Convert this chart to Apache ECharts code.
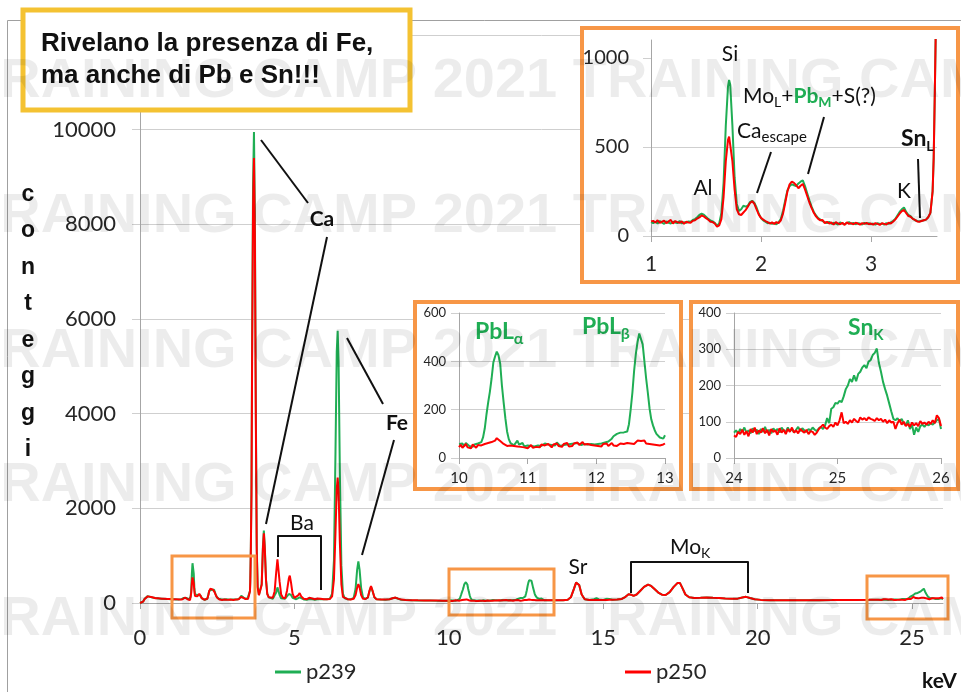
<!DOCTYPE html>
<html><head><meta charset="utf-8">
<script src="https://cdn.jsdelivr.net/npm/echarts@6/dist/echarts.min.js"></script>
<style>html,body{margin:0;padding:0;background:#fff}#c{width:961px;height:692px}</style>
</head><body><div id="c"></div>
<script>
// ---------------- DATA: rows are [keV, p239, p250] ----------------
const specLow = [[0.00,0,0],[0.05,5,5],[0.10,30,28],[0.15,90,85],[0.20,130,125],[0.25,145,140],[0.30,138,135],[0.40,118,120],[0.50,105,102],[0.60,96,98],[0.70,92,90],[0.80,86,88],[0.90,82,84]];

const specSi = [[1.00,78,82],[1.02,72,85],[1.04,80,76],[1.06,70,88],[1.08,84,74],[1.10,75,80],[1.12,68,86],[1.14,82,72],[1.16,74,82],[1.18,70,90],[1.20,80,70],[1.22,76,84],[1.24,72,78],[1.26,84,74],[1.28,70,82],[1.30,78,68],[1.32,74,80],[1.34,82,76],[1.36,80,74],[1.38,90,85],[1.40,95,88],[1.42,105,98],[1.44,118,104],[1.46,125,115],[1.48,120,110],[1.50,108,100],[1.52,96,92],[1.54,88,80],[1.56,82,78],[1.58,74,70],[1.60,58,52],[1.62,70,60],[1.64,130,95],[1.66,300,220],[1.68,620,420],[1.70,840,540],[1.71,876,558],[1.72,850,550],[1.74,620,420],[1.76,330,260],[1.78,180,150],[1.80,140,122],[1.82,150,118],[1.84,170,132],[1.86,165,145],[1.88,170,165],[1.90,190,185],[1.92,198,195],[1.94,185,180],[1.96,160,150],[1.98,125,120],[2.00,100,102],[2.02,88,92],[2.04,80,84],[2.06,72,78],[2.08,74,70],[2.10,68,76],[2.12,72,68],[2.14,66,78],[2.16,78,72],[2.18,95,88],[2.20,140,125],[2.22,200,185],[2.24,255,250],[2.26,280,290],[2.28,290,305],[2.30,285,298],[2.32,280,285],[2.34,295,268],[2.36,305,282],[2.38,312,292],[2.40,280,262],[2.42,240,225],[2.44,200,188],[2.46,165,158],[2.48,135,130],[2.50,115,110],[2.52,100,96],[2.54,92,88],[2.56,84,90],[2.58,78,72],[2.60,72,80],[2.62,80,70],[2.64,68,76],[2.66,74,64],[2.68,70,78],[2.70,64,70],[2.72,76,66],[2.74,70,74],[2.76,66,62],[2.78,72,76],[2.80,78,68],[2.82,68,72],[2.84,74,66],[2.86,66,74],[2.88,72,70],[2.90,70,64],[2.92,64,72],[2.94,74,68],[2.96,68,74],[2.98,72,66],[3.00,66,70],[3.02,70,64],[3.04,64,72],[3.06,72,68],[3.08,68,62],[3.10,70,72],[3.12,64,68],[3.14,72,64],[3.16,68,74],[3.18,76,70],[3.20,84,80],[3.22,95,92],[3.24,115,108],[3.26,135,125],[3.28,150,140],[3.30,160,146],[3.32,135,128],[3.34,118,112],[3.36,112,108],[3.38,98,96],[3.40,88,90],[3.42,84,82],[3.44,82,80],[3.46,86,84],[3.48,88,88],[3.50,92,92],[3.52,105,105],[3.54,130,130],[3.56,250,250],[3.57,440,440],[3.58,800,800],[3.59,1200,1200]];

const specCaFe = [[3.61,2500,2300],[3.63,5500,5100],[3.66,8800,8300],[3.69,9950,9400],[3.72,8200,7700],[3.75,4200,3900],[3.78,1200,1100],[3.81,350,330],[3.85,170,165],[3.90,150,150],[3.94,400,380],[3.98,1200,1150],[4.01,1530,1470],[4.04,1200,1150],[4.08,500,480],[4.12,200,190],[4.17,120,120],[4.22,95,100],[4.30,90,110],[4.36,110,250],[4.41,220,650],[4.45,330,920],[4.48,300,880],[4.52,170,450],[4.57,100,180],[4.63,85,110],[4.70,90,100],[4.76,130,260],[4.82,190,520],[4.85,210,580],[4.89,170,430],[4.94,110,200],[5.00,85,110],[5.06,80,100],[5.12,100,160],[5.17,120,210],[5.22,95,140],[5.30,75,90],[5.40,70,80],[5.48,85,110],[5.53,100,130],[5.58,80,95],[5.66,70,80],[5.75,80,95],[5.85,85,90],[5.95,80,80],[6.05,80,78],[6.15,90,85],[6.22,200,140],[6.28,900,500],[6.33,3200,1500],[6.37,5300,2400],[6.40,5750,2650],[6.43,5100,2350],[6.47,2800,1300],[6.52,800,400],[6.57,200,130],[6.63,100,90],[6.72,80,80],[6.82,78,75],[6.92,110,90],[6.98,300,170],[7.03,700,320],[7.07,880,400],[7.11,700,330],[7.16,320,170],[7.22,120,90],[7.30,85,85],[7.38,120,120],[7.43,250,260],[7.48,340,360],[7.53,250,260],[7.59,120,120],[7.66,80,80],[7.80,72,72],[7.95,70,72],[8.08,78,80],[8.18,100,100],[8.27,112,115],[8.36,90,92],[8.46,70,72],[8.60,62,64],[8.80,58,60],[9.00,55,56],[9.20,52,54],[9.40,52,52],[9.60,50,51],[9.80,50,50],[9.98,50,49]];

const specPb = [[10.000,58,45],[10.025,52,55],[10.050,60,42],[10.075,48,50],[10.100,62,58],[10.125,55,44],[10.150,50,52],[10.175,58,40],[10.200,46,56],[10.225,56,48],[10.250,52,42],[10.275,60,54],[10.300,55,46],[10.325,66,52],[10.350,85,50],[10.375,122,58],[10.400,180,55],[10.425,230,62],[10.450,275,60],[10.475,330,66],[10.500,395,70],[10.525,420,72],[10.550,440,82],[10.575,425,76],[10.600,390,70],[10.625,300,62],[10.650,230,58],[10.675,165,55],[10.700,110,50],[10.725,78,46],[10.750,62,52],[10.775,56,44],[10.800,52,50],[10.825,60,42],[10.850,72,48],[10.875,55,40],[10.900,50,46],[10.925,62,52],[10.950,48,44],[10.975,55,50],[11.000,52,40],[11.025,58,48],[11.050,50,54],[11.075,55,42],[11.100,48,50],[11.125,56,46],[11.150,52,52],[11.175,58,44],[11.200,50,56],[11.225,55,48],[11.250,60,52],[11.275,52,46],[11.300,56,58],[11.325,62,50],[11.350,54,44],[11.375,58,56],[11.400,52,48],[11.425,64,60],[11.450,56,50],[11.475,50,54],[11.500,58,46],[11.525,54,58],[11.550,60,52],[11.575,56,62],[11.600,52,48],[11.625,58,56],[11.650,55,50],[11.675,60,60],[11.700,56,52],[11.725,62,64],[11.750,58,54],[11.775,54,60],[11.800,60,66],[11.825,58,56],[11.850,62,62],[11.875,56,58],[11.900,60,66],[11.925,58,54],[11.950,62,60],[11.975,56,52],[12.000,60,58],[12.025,58,50],[12.050,62,56],[12.075,60,48],[12.100,66,58],[12.125,64,52],[12.150,70,60],[12.175,68,50],[12.200,75,56],[12.225,80,62],[12.250,90,52],[12.275,95,58],[12.300,100,50],[12.325,108,56],[12.350,105,60],[12.375,100,52],[12.400,106,58],[12.425,98,54],[12.450,110,62],[12.475,140,56],[12.500,200,60],[12.525,270,64],[12.550,360,58],[12.575,430,66],[12.600,480,72],[12.625,515,78],[12.650,520,70],[12.675,470,66],[12.700,400,72],[12.725,330,60],[12.750,270,66],[12.775,205,58],[12.800,160,64],[12.825,135,56],[12.850,115,62],[12.875,100,54],[12.900,94,60],[12.925,85,52],[12.950,78,58],[12.975,80,56],[13.000,94,60]];

const specMo = [[13.10,58,58],[13.30,56,57],[13.50,58,58],[13.70,60,60],[13.85,70,70],[13.95,120,120],[14.05,300,300],[14.12,430,430],[14.17,455,455],[14.22,380,380],[14.30,180,180],[14.40,80,80],[14.55,62,62],[14.70,80,62],[14.78,100,66],[14.86,75,62],[15.00,66,64],[15.12,90,66],[15.20,85,68],[15.30,68,68],[15.45,72,72],[15.60,85,85],[15.72,130,130],[15.82,185,185],[15.90,175,175],[15.98,150,150],[16.08,180,180],[16.20,260,260],[16.32,340,340],[16.45,390,390],[16.55,360,360],[16.65,300,300],[16.78,220,220],[16.90,175,175],[17.02,170,170],[17.15,230,230],[17.28,340,340],[17.40,420,420],[17.48,425,425],[17.56,320,320],[17.66,180,180],[17.78,120,120],[17.95,105,105],[18.15,110,110],[18.35,118,118],[18.55,112,112],[18.75,108,108],[18.95,95,95],[19.15,88,88],[19.35,92,92],[19.50,115,115],[19.62,130,130],[19.75,105,105],[19.90,80,80],[20.10,66,66],[20.40,60,60],[20.80,58,58],[21.20,57,57],[21.60,58,58],[22.00,60,60],[22.40,61,61],[22.80,63,63],[23.20,65,65],[23.60,67,67],[23.90,70,70]];

const specSn = [[24.00,70,62],[24.02,76,58],[24.04,68,72],[24.06,80,66],[24.08,72,78],[24.10,84,64],[24.12,70,74],[24.14,76,60],[24.16,68,80],[24.18,82,70],[24.20,74,84],[24.22,78,66],[24.24,66,76],[24.26,80,70],[24.28,72,82],[24.30,86,68],[24.32,70,78],[24.34,78,62],[24.36,68,80],[24.38,82,72],[24.40,74,76],[24.42,80,64],[24.44,70,82],[24.46,84,70],[24.48,76,78],[24.50,72,66],[24.52,84,80],[24.54,74,72],[24.56,80,84],[24.58,70,70],[24.60,78,76],[24.62,86,68],[24.64,74,80],[24.66,82,74],[24.68,76,70],[24.70,72,78],[24.72,80,66],[24.74,76,74],[24.76,84,72],[24.78,78,64],[24.80,74,70],[24.82,82,80],[24.84,86,86],[24.86,80,92],[24.88,90,84],[24.90,110,80],[24.92,96,88],[24.94,136,92],[24.96,140,86],[24.98,152,98],[25.00,150,90],[25.02,158,104],[25.04,154,126],[25.06,170,96],[25.08,190,100],[25.10,200,94],[25.12,218,104],[25.14,210,98],[25.16,228,108],[25.18,212,102],[25.20,232,98],[25.22,238,112],[25.24,250,106],[25.26,256,110],[25.28,248,104],[25.30,266,112],[25.32,270,108],[25.34,284,106],[25.36,290,102],[25.38,302,110],[25.40,262,104],[25.42,238,108],[25.44,210,100],[25.46,190,106],[25.48,172,96],[25.50,150,104],[25.52,128,98],[25.54,108,100],[25.56,104,80],[25.58,110,96],[25.60,100,106],[25.62,108,92],[25.64,96,100],[25.66,90,88],[25.68,104,94],[25.70,80,86],[25.72,92,98],[25.74,64,90],[25.76,84,96],[25.78,72,88],[25.80,88,102],[25.82,92,94],[25.84,86,98],[25.86,94,92],[25.88,90,100],[25.90,96,94],[25.92,92,104],[25.94,98,96],[25.96,104,118],[25.98,108,110],[26.00,80,88]];

const seriesNames = ['p239', 'p250'];
const mainTicksX = [0, 5, 10, 15, 20, 25];
const mainTicksY = [0, 2000, 4000, 6000, 8000, 10000, 12000];
const insetSiTicksX = [1, 2, 3];
const insetSiTicksY = [0, 500, 1000];

// ---------------- CHART ----------------
const GREEN = '#1fae54', RED = '#ff0000';
const GRID = '#cfcfcf', AXIS = '#a6a6a6', TXT = '#262626';
const FONT = 'Lato';
const spectrum = [...specLow, ...specSi, ...specCaFe, ...specPb, ...specMo, ...specSn];
const col = (rows, k) => rows.map(r => [r[0], r[k]]);
const plain = v => String(v);

function xAx(g, min, max, interval, fs, margin, ticks) {
  return {
    gridIndex: g, type: 'value', min, max, interval, z: g ? 6 : 0,
    axisLine: { show: true, lineStyle: { color: AXIS, width: 1 } },
    axisTick: Object.assign({ show: true, length: 6, lineStyle: { color: AXIS } }, ticks ? { customValues: ticks } : {}),
    axisLabel: Object.assign({ fontSize: fs, color: TXT, fontFamily: FONT, margin, formatter: plain }, ticks ? { customValues: ticks } : {}),
    splitLine: { show: false }
  };
}
function yAx(g, min, max, interval, fs, margin, ticks) {
  return {
    gridIndex: g, type: 'value', min, max, interval, z: g ? 6 : 0,
    axisLine: { show: true, lineStyle: { color: AXIS, width: 1 } },
    axisTick: Object.assign({ show: true, length: 8, lineStyle: { color: GRID } }, ticks ? { customValues: ticks } : {}),
    axisLabel: Object.assign({ fontSize: fs, color: TXT, fontFamily: FONT, margin, formatter: plain }, ticks ? { customValues: ticks } : {}),
    splitLine: { show: true, showMaxLine: ticks ? false : true, lineStyle: { color: GRID, width: 1 } }
  };
}
function line(name, data, color, g) {
  return { name, type: 'line', data, xAxisIndex: g, yAxisIndex: g, showSymbol: false, symbol: 'none',
    lineStyle: { color, width: 2 }, itemStyle: { color }, z: g ? 7 : 2, animation: false, silent: true };
}

const chart = echarts.init(document.getElementById('c'), null, { renderer: 'canvas' });

// graphic helpers (pixel layout)
function rect(x, y, w, h, stroke, lw, fill, z) {
  return { type: 'rect', shape: { x, y, width: w, height: h }, z, silent: true,
    style: { stroke, lineWidth: lw, fill: fill || 'transparent' } };
}
function seg(points, z) {
  return { type: 'polyline', shape: { points }, z: z || 8, silent: true,
    style: { stroke: '#111', lineWidth: 2, fill: null, lineJoin: 'round' } };
}
function txt(x, y, text, o) {
  o = o || {};
  return { type: 'text', x, y, z: o.z || 8, silent: true,
    style: { text, fill: o.fill || '#111', fontSize: o.fs || 21, fontFamily: o.ff || FONT,
      fontWeight: o.fw || 'normal', align: o.align || 'center', verticalAlign: o.va || 'middle',
      textAlign: o.align || 'center', textVerticalAlign: o.va || 'middle',
      lineHeight: o.lh, rich: o.rich } };
}
function subRich(fs, subFs, color, weight) {
  return {
    n: { fontSize: fs, fontFamily: FONT, fill: color, color, fontWeight: weight, lineHeight: fs + 6, verticalAlign: 'middle' },
    s: { fontSize: subFs, fontFamily: FONT, fill: color, color, fontWeight: weight, lineHeight: subFs, verticalAlign: 'bottom' },
    g: { fontSize: fs, fontFamily: FONT, fill: GREEN, color: GREEN, fontWeight: 'bold', lineHeight: fs + 6, verticalAlign: 'middle' },
    gs: { fontSize: subFs, fontFamily: FONT, fill: GREEN, color: GREEN, fontWeight: 'bold', lineHeight: subFs, verticalAlign: 'bottom' }
  };
}

const wmRows = [82, 217, 352, 486, 620];
const watermark = wmRows.map(y => ({ type: 'text', x: -34, y, z: 20, silent: true,
  style: { text: 'TRAINING CAMP 2021 TRAINING CAMP 2021', fill: 'rgba(0,0,0,0.075)', fontSize: 56,
    fontFamily: 'Liberation Sans', fontWeight: 'bold', align: 'left', verticalAlign: 'middle',
    textAlign: 'left', textVerticalAlign: 'middle' } }));

const graphics = [
  rect(7.5, 20.5, 1000, 700, '#a0a0a0', 1, 'transparent', 1),
  rect(582, 28, 376, 254, '#F79646', 4, '#fff', 5),
  rect(415, 302, 266, 187, '#F79646', 4, '#fff', 5),
  rect(691, 302, 267, 187, '#F79646', 4, '#fff', 5),
  rect(172, 556, 83, 62, '#F79646', 3, 'transparent', 8),
  rect(449, 569, 105, 46, '#F79646', 3, 'transparent', 8),
  rect(867, 576, 81, 43, '#F79646', 3, 'transparent', 8),
  seg([[261, 140], [308, 203]]), txt(322, 219, 'Ca', { fw: 'bold' }), seg([[327, 237], [266, 524]]),
  seg([[347, 338], [383, 404]]), txt(397, 423, 'Fe', { fw: 'bold' }), seg([[394, 440], [362, 555]]),
  txt(302, 523, 'Ba'), seg([[278, 557], [278, 536], [321, 536], [321, 590]]),
  txt(578, 567, 'Sr'),
  txt(670, 547, '{n|Mo}{s|K}', { align: 'left', rich: subRich(21, 14, '#111', 'normal') }),
  seg([[631, 593], [631, 562], [748, 562], [748, 593]]),
  txt(730, 54, 'Si'), txt(703, 188, 'Al'), txt(904, 191, 'K'),
  txt(743, 96, '{n|Mo}{s|L}{n|+}{g|Pb}{gs|M}{n|+S(?)}', { align: 'left', rich: subRich(21, 14, '#111', 'normal') }),
  txt(737, 131, '{n|Ca}{s|escape}', { align: 'left', rich: subRich(21, 15, '#111', 'normal') }),
  txt(901, 139, '{n|Sn}{s|L}', { align: 'left', rich: subRich(23, 14, '#111', 'bold') }),
  seg([[771, 152], [757, 193]]), seg([[824, 117], [808, 174]]), seg([[918, 159], [920, 218]]),
  txt(475, 332, '{n|PbL}{s|α}', { align: 'left', rich: subRich(23, 16, GREEN, 'bold') }),
  txt(582, 327, '{n|PbL}{s|β}', { align: 'left', rich: subRich(23, 16, GREEN, 'bold') }),
  txt(848, 328, '{n|Sn}{s|K}', { align: 'left', rich: subRich(23, 15, GREEN, 'bold') }),
  txt(28, 176, 'c\no\nn\nt\ne\ng\ng\ni', { fw: 'bold', fs: 23, ff: 'Liberation Sans', va: 'top', lh: 36.5 }),
  txt(922, 681, 'keV', { fw: 'bold', fs: 21, align: 'left' }),
  rect(23, 10, 387, 100, '#F4C232', 5, '#fff', 12),
  txt(41, 60, 'Rivelano la presenza di Fe,\nma anche di Pb e Sn!!!', { z: 13, fw: 'bold', fs: 26, ff: 'Liberation Sans', align: 'left', lh: 32 }),
  ...watermark
];

const legendCommon = { icon: 'rect', itemWidth: 26, itemHeight: 3, itemGap: 6, top: 656,
  textStyle: { fontSize: 22, color: TXT, fontFamily: FONT }, selectedMode: false };

chart.setOption({
  animation: false,
  backgroundColor: '#fff',
  grid: [
    { left: 140, right: 18, top: 35, bottom: 89 },
    { left: 651, right: 24, top: 40, bottom: 456, z: 6 },
    { left: 459, right: 296, top: 313, bottom: 234, z: 6 },
    { left: 734, right: 20, top: 313, bottom: 234, z: 6 }
  ],
  xAxis: [
    xAx(0, 0, 26, 5, 22, 24, mainTicksX),
    xAx(1, 1, 3.6, 1, 21, 18, insetSiTicksX),
    xAx(2, 10, 13, 1, 15, 13),
    xAx(3, 24, 26, 1, 15, 13)
  ],
  yAxis: [
    yAx(0, 0, 12000, 2000, 22, 24),
    yAx(1, 0, 1100, 500, 20, 22, insetSiTicksY),
    yAx(2, 0, 600, 200, 13, 13),
    yAx(3, 0, 400, 100, 13, 13)
  ],
  legend: [
    Object.assign({ data: [seriesNames[0]], left: 270 }, legendCommon),
    Object.assign({ data: [seriesNames[1]], left: 620 }, legendCommon)
  ],
  series: [
    line(seriesNames[0], col(spectrum, 1), GREEN, 0),
    line(seriesNames[1], col(spectrum, 2), RED, 0),
    line(seriesNames[0], col(specSi, 1), GREEN, 1),
    line(seriesNames[1], col(specSi, 2), RED, 1),
    line(seriesNames[0], col(specPb, 1), GREEN, 2),
    line(seriesNames[1], col(specPb, 2), RED, 2),
    line(seriesNames[0], col(specSn, 1), GREEN, 3),
    line(seriesNames[1], col(specSn, 2), RED, 3)
  ],
  graphic: { elements: graphics }
});
</script></body></html>
